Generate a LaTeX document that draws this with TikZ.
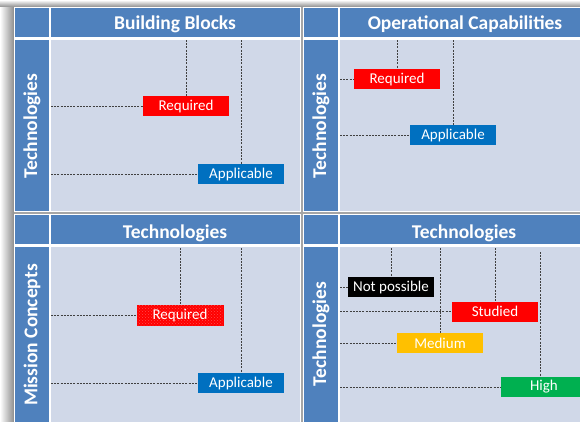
\documentclass[tikz,border=0pt]{standalone}
\usepackage{fontspec}
\setmainfont{Carlito}
\usetikzlibrary{patterns}
\definecolor{hdrblue}{HTML}{4F81BD}
\definecolor{cellgray}{HTML}{D0D8E8}
\definecolor{sepgray}{HTML}{A6A6A6}
\definecolor{appblue}{HTML}{0070C0}
\definecolor{midamber}{HTML}{FFC000}
\definecolor{highgreen}{HTML}{00B050}

\begin{document}
\begin{tikzpicture}[x=1pt, y=-1pt,
	hdr/.style={font=\fontsize{19.5}{20}\selectfont\bfseries, text=white, inner sep=0pt},
	side/.style={hdr, rotate=90},
	tag/.style={rectangle, minimum width=86pt, minimum height=20pt, inner sep=0pt, text=white, font=\fontsize{15}{15}\selectfont},
	link/.style={draw=black!75, dash pattern=on 2pt off 1.2pt, line width=0.9pt}]
				\clip (0,0) rectangle (580,421);
				\fill[white] (0,0) rectangle (580,421);
				% shadow
				\shade[top color=white, bottom color=black!45] (0,0) rectangle (580,7);
				\shade[left color=white, right color=black!45] (0,7) rectangle (14,421);
				\fill[sepgray] (14,7) rectangle (590,430);
				
				% the four panels
				\foreach \px/\py/\ph in {14/7/205, 303/7/205, 14/214/216, 303/214/216}{
					\fill[white] (\px,\py) rectangle (\px+287,\py+\ph);
					\fill[hdrblue] (\px+1,\py+1) rectangle (\px+35,\py+30);
					\fill[hdrblue] (\px+37,\py+1) rectangle (\px+286,\py+30);
					\fill[hdrblue] (\px+1,\py+33) rectangle (\px+35,\py+\ph-1);
					\fill[cellgray] (\px+37,\py+33) rectangle (\px+286,\py+\ph-1);
				}
				
				\node[hdr] (bbhead) at (175,24.5){Building Blocks};
				\node[hdr] (ochead) at (465,24.5){Operational Capabilities};
				\node[hdr] (tchead) at (175,233.5){Technologies};
				\node[hdr] (tthead) at (464,233.5){Technologies};
				\node[side] (bbside) at (32,126){Technologies};
				\node[side] (ocside) at (321,126){Technologies};
				\node[side] (mcside) at (32,335){Mission Concepts};
				\node[side] (ttside) at (321,334){Technologies};
				
				% building blocks
				\node[tag, fill=red] (req1) at (186,106){Required};
				\node[tag, fill=appblue] (app1) at (241,174){Applicable};
				\coordinate (req1top) at (186,40);
				\coordinate (req1left) at (51,106);
				\coordinate (app1top) at (241,40);
				\coordinate (app1left) at (51,174);
				\path[link] (req1top) edge (req1.north);
				\path[link] (req1left) edge (req1.west);
				\path[link] (app1top) edge (app1.north);
				\path[link] (app1left) edge (app1.west);
				
				% operational capabilities
				\node[tag, fill=red] (req2) at (397,79){Required};
				\node[tag, fill=appblue] (app2) at (453,135){Applicable};
				\coordinate (req2top) at (397,40);
				\coordinate (req2left) at (340,79);
				\coordinate (app2top) at (453,40);
				\coordinate (app2left) at (340,135);
				\path[link] (req2top) edge (req2.north);
				\path[link] (req2left) edge (req2.west);
				\path[link] (app2top) edge (app2.north);
				\path[link] (app2left) edge (app2.west);
				
				% mission concepts
				\node[tag, fill=red, draw=red, line width=1pt, postaction={pattern=crosshatch dots, pattern color=white!30!red}] (req3) at (180,315){Required};
				\node[tag, fill=appblue] (app3) at (241,383){Applicable};
				\coordinate (req3top) at (180,248);
				\coordinate (req3left) at (51,315);
				\coordinate (app3top) at (241,248);
				\coordinate (app3left) at (51,383);
				\path[link] (req3top) edge (req3.north);
				\path[link] (req3left) edge (req3.west);
				\path[link] (app3top) edge (app3.north);
				\path[link] (app3left) edge (app3.west);
				
				% technologies vs technologies
				\coordinate (nopostop) at (391,248);
				\coordinate (nopostleft) at (340,287);
				\coordinate (studtop) at (495,248);
				\coordinate (studleft) at (340,311.5);
				\coordinate (medtop) at (440,248);
				\coordinate (medleft) at (340,343);
				\coordinate (hightop) at (540,252);
				\coordinate (highleft) at (340,387);
				\node[tag, fill=black] (nopos) at (391,287){Not possible};
				\node[tag, fill=red] (stud) at (495,311.5){Studied};
				\node[tag, fill=midamber] (med) at (440,343){Medium};
				\node[tag, fill=highgreen] (high) at (544,387){High};
				\path[link] (nopostop) edge (nopos.north);
				\path[link] (nopostleft) edge (nopos.west);
				\path[link] (studtop) edge (stud.north);
				\path[link] (studleft) edge (stud.west);
				\path[link] (medtop) edge (med.north);
				\path[link] (medleft) edge (med.west);
				\path[link] (hightop) edge (hightop |- high.north);
				\path[link] (highleft) edge (high.west);
\end{tikzpicture}
\end{document}
